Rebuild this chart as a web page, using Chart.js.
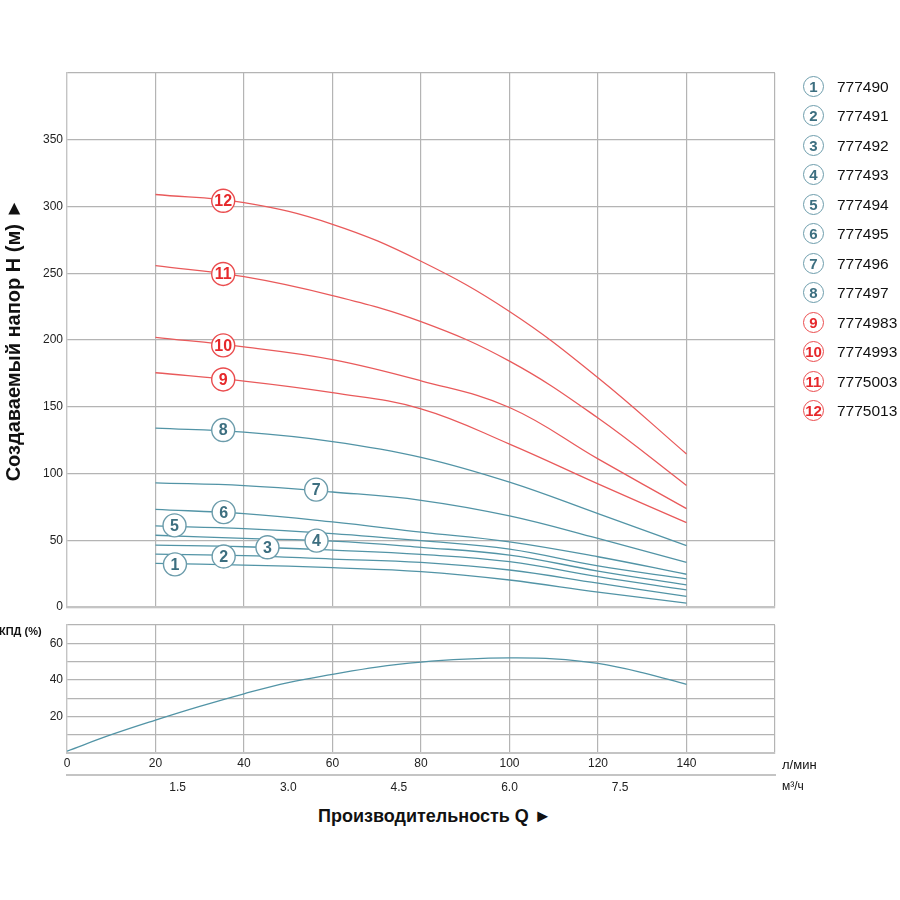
<!DOCTYPE html>
<html lang="ru">
<head>
<meta charset="utf-8">
<title>Напорные характеристики</title>
<script src="https://cdn.jsdelivr.net/npm/chart.js@4.4.1/dist/chart.umd.min.js"></script>
<style>
  html, body { margin: 0; padding: 0; background: #fff; }
  #page { position: relative; width: 900px; height: 900px; font-family: "Liberation Sans", Arial, sans-serif; }
  #headBox { position: absolute; left: 0; top: 0; width: 900px; height: 620px; }
  #effBox { position: absolute; left: 0; top: 600px; width: 900px; height: 200px; }
  .note { position: absolute; color: #111; white-space: nowrap; }
  .lg-circle { position: absolute; box-sizing: border-box; width: 21px; height: 21px; border: 1.3px solid; border-radius: 50%;
    font-weight: bold; font-size: 15px; text-align: center; line-height: 19px; background: #fff; }
  .lg-text { position: absolute; font-size: 15.5px; color: #111; line-height: 21px; }
</style>
</head>
<body>
<div id="page">
  <div id="headBox"><canvas id="headChart"></canvas></div>
  <div id="effBox"><canvas id="effChart"></canvas></div>
  <div class="note" style="left:-1px; top:625px; font-size:11px; font-weight:bold;">КПД (%)</div>
  <div class="note" style="left:782px; top:757px; font-size:13px;">л/мин</div>
  <div class="note" style="left:782px; top:779px; font-size:12px;">м³/ч</div>
  <div class="note" style="left:318px; top:806px; font-size:18px; font-weight:bold;">Производительность Q ►</div>
  <div id="legend"></div>
</div>
<script>
// подача, л/мин
const flowLpm = [20, 40, 60, 80, 100, 120, 140];

// напор, м
const head1  = [32.8, 31.5, 29.5, 26.6, 20.3, 11.2, 3];
const head2  = [39.7, 38.5, 36, 33.5, 27.8, 17.9, 8];
const head3  = [46.4, 45.2, 42.7, 39.5, 34, 22.8, 12.9];
const head4  = [53.8, 51.4, 49.4, 44.8, 39, 27, 16.6];
const head5  = [60.8, 58.8, 55.1, 49.8, 43.4, 30.8, 21.1];
const head6  = [73.2, 70, 63.8, 56.2, 48.9, 37.7, 24.6];
const head7  = [93, 91, 86.2, 80, 68.3, 51.4, 33.5];
const head8  = [134, 131, 124, 112.2, 93.6, 70, 46];
const head9  = [175.5, 169.3, 160.6, 148.5, 122.1, 92.3, 63.3];
const head10 = [202, 194.9, 185.4, 169.5, 149.5, 111, 73.7];
const head11 = [255.7, 247.5, 233.3, 213.8, 184.2, 141.6, 91.1];
const head12 = [309, 302.9, 286.7, 259, 221.4, 171.8, 114.7];

const modelCodes = ['777490', '777491', '777492', '777493', '777494', '777495',
                    '777496', '777497', '7774983', '7774993', '7775003', '7775013'];
const markerNums = ['1', '2', '3', '4', '5', '6', '7', '8', '9', '10', '11', '12'];
// где стоят кружки с номерами (л/мин, м)
const markerQ = [24.4, 35.4, 45.3, 56.4, 24.3, 35.4, 56.3, 35.3, 35.3, 35.3, 35.3, 35.3];
const markerH = [32, 37.9, 44.8, 49.8, 61.2, 71.1, 88, 132.6, 170.5, 196, 249.5, 304.3];

// КПД
const effFlow = [0, 10, 20, 30, 40, 50, 60, 70, 80, 90, 100, 110, 120, 130, 140];
const effValues = [1, 10, 18, 25.5, 32.4, 38.5, 43, 47, 49.7, 51.3, 52, 51.5, 49, 44, 37.5];

// подписи осей
const headTicks = [0, 50, 100, 150, 200, 250, 300, 350];
const lpmTicks = [0, 20, 40, 60, 80, 100, 120, 140];
const m3Ticks = [1.5, 3.0, 4.5, 6.0, 7.5];
const effTicks = [20, 40, 60];

const headSeries = [head1, head2, head3, head4, head5, head6, head7, head8, head9, head10, head11, head12];

const BLUE = '#5294a6';
const RED = '#e95a5b';
const BLUE_MARK = '#6c9cab';
const RED_MARK = '#ea4c4e';
const BLUE_TEXT = '#3d6f80';
const RED_TEXT = '#e6282b';
const GRID = '#b4b4b4';
const AXIS = '#c4c4c4';
const isRed = i => i >= 8;

Chart.defaults.font.family = '"Liberation Sans", Arial, sans-serif';
Chart.defaults.font.size = 12;
Chart.defaults.color = '#222';

// номера в кружках
const markerText = {
    id: 'markerText',
    afterDatasetsDraw(chart) {
        const idx = chart.data.datasets.findIndex(d => d.label === 'markers');
        if (idx < 0) return;
        const meta = chart.getDatasetMeta(idx);
        const ctx = chart.ctx;
        ctx.save();
        ctx.font = 'bold 16px "Liberation Sans", Arial, sans-serif';
        ctx.textAlign = 'center';
        ctx.textBaseline = 'middle';
        meta.data.forEach((pt, i) => {
            ctx.fillStyle = isRed(i) ? RED_TEXT : BLUE_TEXT;
            ctx.fillText(markerNums[i], pt.x, pt.y + 1);
        });
        ctx.restore();
    }
};

// Верхний график: напор
var headSets = headSeries.map((s, i) => ({
    label: modelCodes[i],
    data: s.map((h, k) => ({ x: flowLpm[k], y: h })),
    borderColor: isRed(i) ? RED : BLUE,
    borderWidth: 1.3,
    pointRadius: 0,
    tension: 0.4,
    fill: false,
    order: 1
}));
headSets.push({
    type: 'scatter',
    label: 'markers',
    data: markerQ.map((q, i) => ({ x: q, y: markerH[i] })),
    pointRadius: 11.5,
    pointBackgroundColor: '#fff',
    pointBorderColor: markerNums.map((n, i) => isRed(i) ? RED_MARK : BLUE_MARK),
    pointBorderWidth: 1.4,
    showLine: false,
    order: -1
});

new Chart(document.getElementById('headChart'), {
    type: 'line',
    data: { datasets: headSets },
    options: {
        responsive: true,
        maintainAspectRatio: false,
        animation: false,
        layout: { padding: { top: 73, right: 125, bottom: 0, left: 0 } },
        plugins: { legend: { display: false }, tooltip: { enabled: false } },
        scales: {
            x: {
                type: 'linear', min: 0, max: 160,
                ticks: { stepSize: 20, display: false },
                grid: { color: GRID, lineWidth: 1.2, drawTicks: false },
                border: { color: AXIS, width: 2 },
                afterFit: s => { s.height = 11; }
            },
            y: {
                min: 0, max: 400,
                ticks: { stepSize: 50, padding: 4, callback: v => headTicks.includes(v) ? v : '' },
                grid: { color: GRID, lineWidth: 1.2, drawTicks: false },
                border: { color: AXIS, width: 1.2 },
                title: {
                    display: true, text: 'Создаваемый напор H (м) ►', color: '#111',
                    font: { size: 20, weight: 'bold' }, padding: { top: 2, bottom: 0 }
                },
                afterFit: s => { s.width = 67; }
            }
        }
    },
    plugins: [markerText]
});

// Нижний график: КПД
new Chart(document.getElementById('effChart'), {
    type: 'line',
    data: {
        datasets: [{
            label: 'КПД',
            data: effValues.map((e, k) => ({ x: effFlow[k], y: e })),
            borderColor: BLUE,
            borderWidth: 1.3,
            pointRadius: 0,
            tension: 0.4,
            fill: false
        }]
    },
    options: {
        responsive: true,
        maintainAspectRatio: false,
        animation: false,
        layout: { padding: { top: 25, right: 125, bottom: 0, left: 0 } },
        plugins: { legend: { display: false }, tooltip: { enabled: false } },
        scales: {
            x: {
                type: 'linear', min: 0, max: 160,
                ticks: { stepSize: 20, padding: 3, maxRotation: 0, callback: v => lpmTicks.includes(v) ? v : '' },
                grid: { color: GRID, lineWidth: 1.2, drawTicks: false },
                border: { color: AXIS, width: 2 },
                afterFit: s => { s.height = 22; }
            },
            x2: {
                type: 'linear', position: 'bottom', weight: 1, min: 0, max: 160,
                afterBuildTicks: a => { a.ticks = m3Ticks.map(m => ({ value: m * 1000 / 60 })); },
                ticks: { padding: 5, maxRotation: 0, callback: v => (v * 0.06).toFixed(1) },
                grid: { display: false, drawTicks: false },
                border: { display: true, color: AXIS, width: 2 },
                afterFit: s => { s.height = 25; }
            },
            y: {
                min: 0, max: 70,
                ticks: { stepSize: 10, padding: 4, callback: v => effTicks.includes(v) ? v : '' },
                grid: { color: GRID, lineWidth: 1.2, drawTicks: false },
                border: { color: AXIS, width: 1.2 },
                afterFit: s => { s.width = 67; }
            }
        }
    }
});

// Легенда справа
var legend = document.getElementById('legend');
modelCodes.forEach((code, i) => {
    var cy = 86 + i * 29.5;
    var c = document.createElement('div');
    c.className = 'lg-circle';
    c.style.left = '803px';
    c.style.top = (cy - 10.5) + 'px';
    c.style.borderColor = isRed(i) ? RED_MARK : BLUE_MARK;
    c.style.color = isRed(i) ? RED_TEXT : BLUE_TEXT;
    c.textContent = markerNums[i];
    legend.appendChild(c);
    var t = document.createElement('div');
    t.className = 'lg-text';
    t.style.left = '837px';
    t.style.top = (cy - 10.5) + 'px';
    t.textContent = code;
    legend.appendChild(t);
});
</script>
</body>
</html>
